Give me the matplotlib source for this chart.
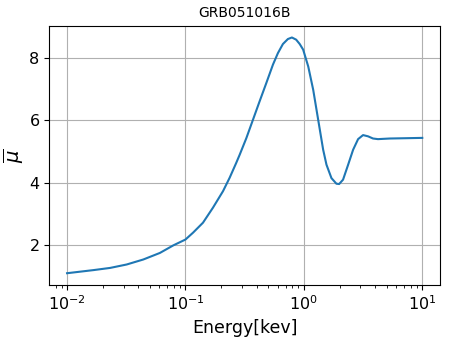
import matplotlib
matplotlib.use("Agg")
import matplotlib.pyplot as plt

# values: log10(energy) and mu-bar
log_energy = [-2.0, -1.776, -1.636, -1.496, -1.356, -1.216, -1.104, -1.0, -0.936,
              -0.852, -0.768, -0.683, -0.627, -0.571, -0.542, -0.486, -0.430,
              -0.374, -0.317, -0.261, -0.219, -0.177, -0.135, -0.101, -0.065,
              -0.035, -0.006, 0.037, 0.079, 0.107, 0.135, 0.163, 0.191, 0.233,
              0.275, 0.298, 0.331, 0.374, 0.416, 0.458, 0.500, 0.542, 0.584,
              0.626, 0.725, 0.865, 1.0]
mu_bar = [1.10, 1.20, 1.27, 1.38, 1.54, 1.75, 1.99, 2.18, 2.40,
          2.72, 3.20, 3.73, 4.16, 4.64, 4.90, 5.43, 6.02,
          6.61, 7.20, 7.79, 8.16, 8.45, 8.61, 8.66, 8.59,
          8.45, 8.27, 7.73, 6.98, 6.34, 5.70, 5.06, 4.58, 4.15,
          3.97, 3.96, 4.10, 4.58, 5.06, 5.40, 5.53, 5.49, 5.42,
          5.40, 5.42, 5.43, 5.44]
energy = [10 ** v for v in log_energy]

fig = plt.figure(figsize=(4.49, 3.39), dpi=100)
ax = fig.add_axes([0.1098, 0.1593, 0.8702, 0.7649])
ax.plot(energy, mu_bar, color="#1f77b4", lw=1.5)
ax.set_xscale("log")
ax.set_title("GRB051016B", fontsize=10)
ax.set_xlabel("Energy[kev]", fontsize=12.5)
ax.set_ylabel(r"$\overline{\mu}$", fontsize=14)
ax.yaxis.set_label_coords(-0.06, 0.5)
ax.set_yticks([2, 4, 6, 8])
ax.tick_params(labelsize=11.5)
ax.grid(True)
fig.savefig("out.png", dpi=100)
